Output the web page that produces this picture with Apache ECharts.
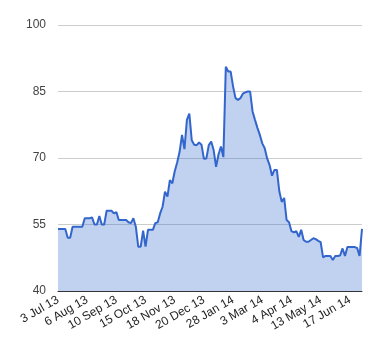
<!DOCTYPE html>
<html>
<head>
<meta charset="utf-8">
<script src="https://cdn.jsdelivr.net/npm/echarts@6/dist/echarts.min.js"></script>
<style>html,body{margin:0;padding:0;background:#fff}#c{width:380px;height:360px}</style>
</head>
<body>
<div id="c"></div>
<script>
const tickLabels = ['3 Jul 13','6 Aug 13','10 Sep 13','15 Oct 13','18 Nov 13','20 Dec 13','28 Jan 14','3 Mar 14','4 Apr 14','13 May 14','17 Jun 14'];
const labelEvery = 12;
const yTicks = [40, 55, 70, 85, 100];
const values = [
  54, 54, 54, 54, 52, 52, 54.5, 54.5, 54.5, 54.5,
  54.5, 56.4, 56.4, 56.4, 56.6, 55, 55, 56.9, 55, 55,
  58.1, 58.1, 58.1, 57.5, 57.8, 56, 56, 56, 56, 55.5,
  55.3, 56.4, 54.5, 50, 50, 53.6, 50, 53.8, 53.8, 53.8,
  55.3, 55.5, 57.5, 59, 62.4, 61.3, 65, 64.3, 67, 69,
  71.4, 75.2, 72, 78.6, 80, 74, 73, 72.9, 73.5, 73,
  69.8, 69.9, 72.9, 73.7, 71.8, 68, 70.8, 72.6, 70.2, 90.6,
  89.5, 89.5, 86.1, 83.5, 83.1, 83.5, 84.5, 84.8, 85, 85,
  80.5, 78.6, 76.8, 75.2, 73.3, 72.2, 69.9, 68.4, 66, 67.3,
  67.3, 62.5, 60.1, 61, 56, 55.5, 53.5, 53.2, 53.5, 52.2,
  53.8, 51.5, 51.1, 51.1, 51.5, 51.9, 51.7, 51.3, 51, 47.6,
  47.9, 47.9, 47.9, 47, 47.9, 47.9, 48, 49.6, 47.9, 49.9,
  49.9, 49.9, 49.9, 49.7, 47.9, 54
];
const categories = values.map((_, i) => String(i));

const chart = echarts.init(document.getElementById('c'), null, {renderer: 'canvas'});
chart.setOption({
  animation: false,
  textStyle: {fontFamily: 'Arial, "Liberation Sans", sans-serif'},
  grid: {left: 58, right: 18, top: 25, bottom: 69, containLabel: false},
  xAxis: {
    type: 'category',
    data: categories,
    boundaryGap: false,
    axisLine: {show: true, lineStyle: {color: '#333', width: 1}},
    axisTick: {show: false},
    splitLine: {show: false},
    axisLabel: {
      rotate: 30,
      margin: 8,
      color: '#222',
      fontSize: 12,
      hideOverlap: false,
      interval: (index) => index % labelEvery === 0,
      formatter: (value, index) => tickLabels[index / labelEvery] || ''
    }
  },
  yAxis: {
    type: 'value',
    min: yTicks[0],
    max: yTicks[yTicks.length - 1],
    interval: yTicks[1] - yTicks[0],
    axisLine: {show: false},
    axisTick: {show: false},
    splitLine: {lineStyle: {color: '#cccccc', width: 1}},
    axisLabel: {color: '#444', fontSize: 12, margin: 12}
  },
  series: [{
    type: 'line',
    data: values,
    symbol: 'none',
    lineStyle: {color: '#3366cc', width: 2},
    itemStyle: {color: '#3366cc'},
    areaStyle: {color: '#3366cc', opacity: 0.3, origin: 'start'},
    z: 3
  }]
});
</script>
</body>
</html>
